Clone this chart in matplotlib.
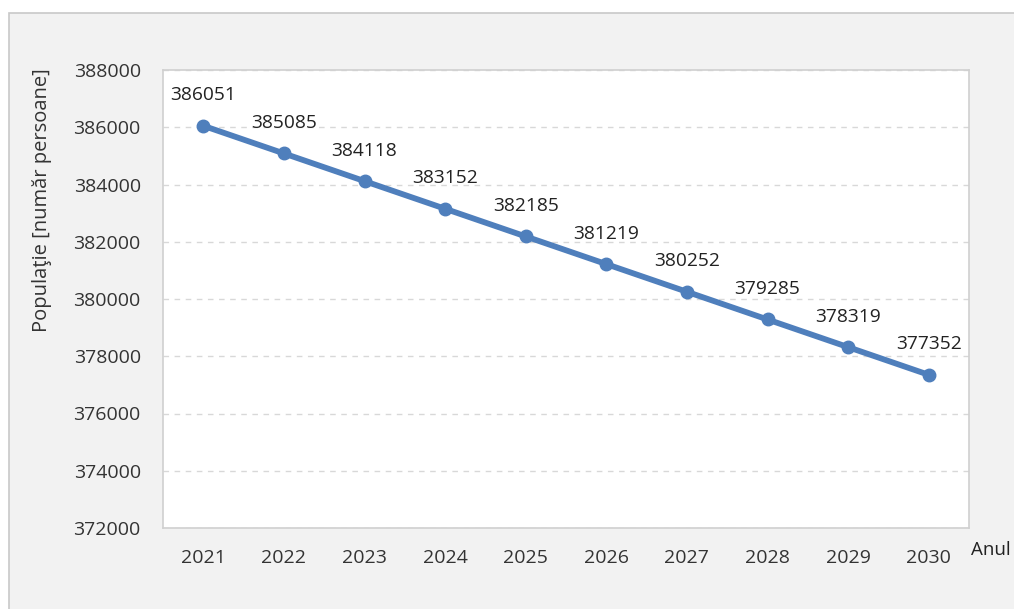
import matplotlib
matplotlib.use("Agg")
import matplotlib.pyplot as plt
from matplotlib.patches import Rectangle

# date
ani = ["2021", "2022", "2023", "2024", "2025", "2026", "2027", "2028", "2029", "2030"]
populatie = [386051, 385085, 384118, 383152, 382185, 381219, 380252, 379285, 378319, 377352]
yticks = [372000, 374000, 376000, 378000, 380000, 382000, 384000, 386000, 388000]

W, H = 1014, 609
plt.rcParams['font.family'] = ['Open Sans', 'DejaVu Sans']

fig = plt.figure(figsize=(W / 100, H / 100), dpi=100)
fig.patch.set_facecolor('white')

# cadru exterior (gri deschis)
fig.patches.append(Rectangle((9 / W, 1 - 640 / H), 1100 / W, 627 / H,
                             transform=fig.transFigure, facecolor='#f2f2f2',
                             edgecolor='#c8c8c8', linewidth=1.2, zorder=-5))

ax = fig.add_axes([163 / W, 1 - 528 / H, (969 - 163) / W, (528 - 70) / H])
ax.set_facecolor('white')

x = list(range(len(ani)))
ax.plot(x, populatie, color='#4f7fbc', lw=4.2, marker='o', ms=9, zorder=3)

for xi, v in zip(x, populatie):
    ax.annotate(str(v), (xi, v), xytext=(0, 22), textcoords='offset points',
                ha='center', va='center', fontsize=13.8, color='#222222')

ax.set_xlim(-0.5, len(ani) - 0.5)
ax.set_ylim(372000, 388000)
ax.set_xticks(x)
ax.set_xticklabels(ani)
ax.set_yticks(yticks)
ax.set_yticklabels([str(t) for t in yticks])
ax.tick_params(length=0, labelsize=14, colors='#333333')
ax.tick_params(axis='x', pad=15)
ax.tick_params(axis='y', pad=16)

ax.yaxis.grid(True, linestyle=(0, (4, 4)), color='#d8d8d8', lw=1)
ax.set_axisbelow(True)
for s in ax.spines.values():
    s.set_color('#d0d0d0')
    s.set_linewidth(1.2)

fig.text(42 / W, 1 - 200 / H, 'Populaţie [număr persoane]', rotation=90,
         ha='center', va='center', fontsize=14.5, color='#333333')
fig.text(971 / W, 1 - 550 / H, 'Anul', ha='left', va='center',
         fontsize=13.5, color='#222222')

fig.savefig('out.png', dpi=100)
